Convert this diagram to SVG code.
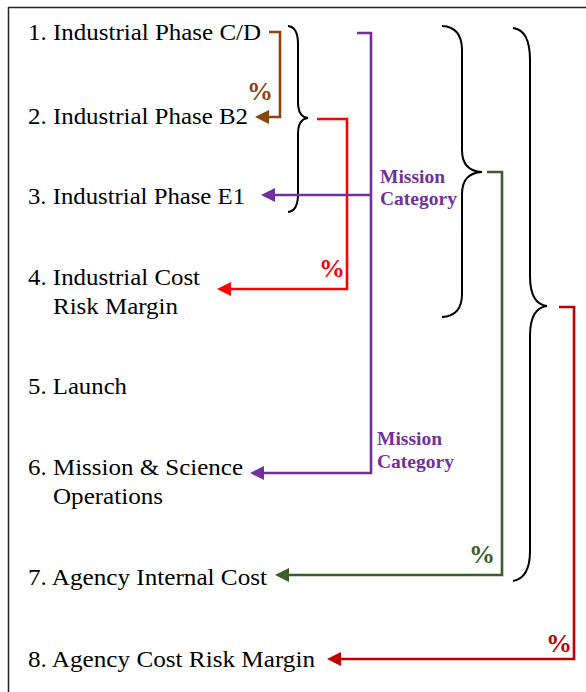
<svg xmlns="http://www.w3.org/2000/svg" width="586" height="692" viewBox="0 0 586 692">
<style>
.t{font-family:"Liberation Serif","Times New Roman",serif;font-size:24px;fill:#000}
.lbl{font-family:"Liberation Serif","Times New Roman",serif;font-weight:bold;font-size:19.5px;fill:#7030A0}
.pc{font-family:"Liberation Serif","Times New Roman",serif;font-weight:bold;font-size:26px}
.br{fill:none;stroke:#000;stroke-width:2}
.c{fill:none;stroke-width:2.6}
</style>
<defs>
<marker id="aBrown" viewBox="0 0 14 14" refX="0" refY="7" markerWidth="14" markerHeight="14" markerUnits="userSpaceOnUse" orient="auto"><path d="M0,0 L14,7 L0,14 z" fill="#8B4513"/></marker>
<marker id="aRed" viewBox="0 0 14 14" refX="0" refY="7" markerWidth="14" markerHeight="14" markerUnits="userSpaceOnUse" orient="auto"><path d="M0,0 L14,7 L0,14 z" fill="#FF0000"/></marker>
<marker id="aPurple" viewBox="0 0 14 14" refX="0" refY="7" markerWidth="14" markerHeight="14" markerUnits="userSpaceOnUse" orient="auto"><path d="M0,0 L14,7 L0,14 z" fill="#7030A0"/></marker>
<marker id="aGreen" viewBox="0 0 14 14" refX="0" refY="7" markerWidth="14" markerHeight="14" markerUnits="userSpaceOnUse" orient="auto"><path d="M0,0 L14,7 L0,14 z" fill="#3B5E2B"/></marker>
<marker id="aDark" viewBox="0 0 14 14" refX="0" refY="7" markerWidth="14" markerHeight="14" markerUnits="userSpaceOnUse" orient="auto"><path d="M0,0 L14,7 L0,14 z" fill="#C00000"/></marker>
</defs>
<rect width="586" height="692" fill="#fff"/>
<path d="M8.5,692 L8.5,7.5 L586,7.5" fill="none" stroke="#222" stroke-width="1.5"/>

<g id="n1"><text class="t" x="28" y="40" textLength="233" lengthAdjust="spacingAndGlyphs">1. Industrial Phase C/D</text></g>
<g id="n2"><text class="t" x="28" y="124" textLength="220" lengthAdjust="spacingAndGlyphs">2. Industrial Phase B2</text></g>
<g id="n3"><text class="t" x="28" y="204" textLength="217" lengthAdjust="spacingAndGlyphs">3. Industrial Phase E1</text></g>
<g id="n4"><text class="t" x="28" y="285" textLength="172" lengthAdjust="spacingAndGlyphs">4. Industrial Cost</text><text class="t" x="53" y="314" textLength="125" lengthAdjust="spacingAndGlyphs">Risk Margin</text></g>
<g id="n5"><text class="t" x="28" y="394" textLength="99" lengthAdjust="spacingAndGlyphs">5. Launch</text></g>
<g id="n6"><text class="t" x="28" y="475" textLength="215" lengthAdjust="spacingAndGlyphs">6. Mission &amp; Science</text><text class="t" x="53" y="504" textLength="110" lengthAdjust="spacingAndGlyphs">Operations</text></g>
<g id="n7"><text class="t" x="28" y="585" textLength="239" lengthAdjust="spacingAndGlyphs">7. Agency Internal Cost</text></g>
<g id="n8"><text class="t" x="28" y="667" textLength="287" lengthAdjust="spacingAndGlyphs">8. Agency Cost Risk Margin</text></g>

<g id="brace1"><path class="br" d="M288,26 Q298,27 298,44 L298,102 Q298,117 308,118 Q298,119 298,134 L298,194 Q298,211 288,212"/></g>
<g id="brace2"><path class="br" d="M442,26 Q462,27 462,50 L462,150 Q462,171 482,172 Q462,173 462,194 L462,294 Q462,316 442,317"/></g>
<g id="brace3"><path class="br" d="M513,28 Q530,30 530,60 L530,276 Q530,304 547,306 Q530,308 530,336 L530,551 Q530,578 513,581"/></g>

<g id="connectors">
<path class="c" stroke="#8B4513" d="M269,32 L280,32 L280,117 L269,117" marker-end="url(#aBrown)"/>
<text class="pc" fill="#8B4513" x="247" y="100">%</text>
<path class="c" stroke="#FF0000" d="M317,119 L347,119 L347,289 L231,289" marker-end="url(#aRed)"/>
<text class="pc" fill="#FF0000" x="319" y="277">%</text>
<path class="c" stroke="#7030A0" d="M357,33 L371,33 L371,473 L264,473" marker-end="url(#aPurple)"/>
<path class="c" stroke="#7030A0" d="M371,195 L275,195" marker-end="url(#aPurple)"/>
<text class="lbl" x="380" y="183">Mission</text>
<text class="lbl" x="380" y="205">Category</text>
<text class="lbl" x="377" y="445">Mission</text>
<text class="lbl" x="377" y="468">Category</text>
<path class="c" stroke="#3B5E2B" d="M487,172 L502,172 L502,575 L289,575" marker-end="url(#aGreen)"/>
<text class="pc" fill="#3B5E2B" x="469" y="563">%</text>
<path class="c" stroke="#C00000" d="M559,307 L574,307 L574,659 L341,659" marker-end="url(#aDark)"/>
<text class="pc" fill="#C00000" x="546" y="652">%</text>
</g>
</svg>
